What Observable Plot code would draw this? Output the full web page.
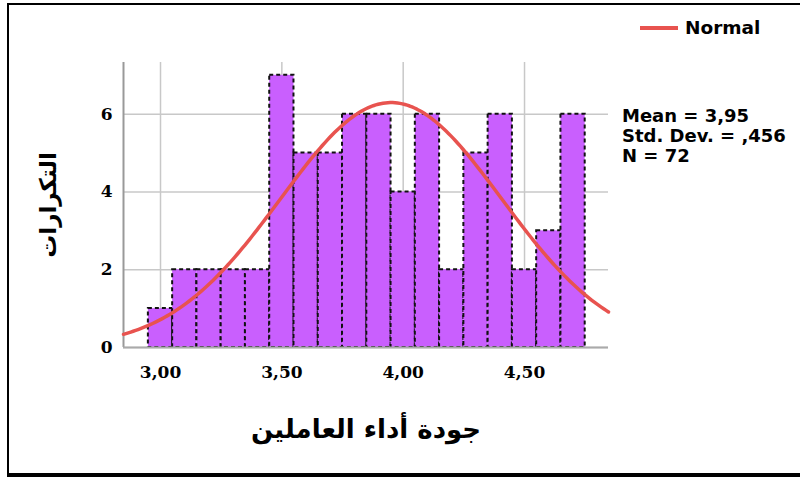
<!DOCTYPE html>
<html>
<head>
<meta charset="utf-8">
<script src="https://cdn.jsdelivr.net/npm/d3@7"></script>
<script src="https://cdn.jsdelivr.net/npm/@observablehq/plot@0.6"></script>
<style>
  body { margin: 0; background: #fff; }
  #wrap { position: relative; width: 800px; height: 477px; overflow: hidden; background: #fff; }
  #frame { position: absolute; left: 7px; top: 3px; width: 800px; height: 474px; box-sizing: border-box;
           border-left: 2px solid #000; border-top: 2px solid #000; border-bottom: 4px solid #000; pointer-events: none; }
  .lbl { position: absolute; font-family: "DejaVu Sans", sans-serif; font-weight: bold; color: #000; white-space: nowrap; }
  #legend { left: 640px; top: 17px; font-size: 18.5px; line-height: 22px; display: flex; align-items: center; }
  #legend span.sw { display: inline-block; width: 38px; height: 4.5px; background: #e8534f; margin-right: 7px; }
  #stats { left: 622px; top: 106px; font-size: 18px; line-height: 20px; }
</style>
</head>
<body>
<div id="wrap">
  <div id="chart"></div>
  <div id="legend" class="lbl"><span class="sw"></span><span>Normal</span></div>
  <div id="stats" class="lbl"></div>
  <div id="frame"></div>
</div>
<script>
// Histogram bins (centers) and frequencies
const binCenters = [3.0, 3.1, 3.2, 3.3, 3.4, 3.5, 3.6, 3.7, 3.8, 3.9, 4.0, 4.1, 4.2, 4.3, 4.4, 4.5, 4.6, 4.7];
const counts     = [1,   2,   2,   2,   2,   7,   5,   5,   6,   6,   4,   6,   2,   5,   6,   2,   3,   6];
const binWidth = 0.1;

// Summary statistics shown on the chart
const statMean = 3.95;
const statSD = 0.456;
const statN = 72;
const statLabels = ["Mean = 3,95", "Std. Dev. = ,456", "N = 72"];

// Axis ticks and titles
const xTicks = [3.0, 3.5, 4.0, 4.5];
const yTicks = [0, 2, 4, 6];
const xTitle = "جودة أداء العاملين";
const yTitle = "التكرارات";
const legendLabel = "Normal";

const xDomain = [2.8475, 4.846];
const yDomain = [0, 7.33];

const bars = binCenters.map((c, i) => ({x1: c - binWidth / 2, x2: c + binWidth / 2, y: counts[i]}));

// Fitted normal curve from the displayed Mean / Std. Dev. / N
const curve = d3.range(0, 201).map(i => {
  const x = xDomain[0] + (xDomain[1] - xDomain[0]) * i / 200;
  const z = (x - statMean) / statSD;
  return {x, y: statN * binWidth / (statSD * Math.sqrt(2 * Math.PI)) * Math.exp(-0.5 * z * z)};
});

const fmt = d => d.toFixed(2).replace(".", ",");

const chart = Plot.plot({
  width: 800,
  height: 477,
  marginLeft: 123,
  marginRight: 192,
  marginTop: 62,
  marginBottom: 130,
  style: {background: "#fff", overflow: "visible"},
  x: {domain: xDomain},
  y: {domain: yDomain},
  marks: [
    Plot.gridX(xTicks, {stroke: "#c8c8c8", strokeOpacity: 1, strokeWidth: 1.5}),
    Plot.gridY(yTicks, {stroke: "#c8c8c8", strokeOpacity: 1, strokeWidth: 1.5}),
    Plot.ruleX([xDomain[0]], {stroke: "#999", strokeWidth: 2}),
    Plot.rectY(bars, {x1: "x1", x2: "x2", y: "y", fill: "#c95ffe", stroke: "#111", strokeWidth: 2, strokeDasharray: "4,3", inset: 0}),
    Plot.ruleY([0], {stroke: "#aaa", strokeWidth: 2}),
    Plot.line(curve, {x: "x", y: "y", stroke: "#e8534f", strokeWidth: 3.5, curve: "linear"}),
    Plot.axisX(xTicks, {tickSize: 0, tickPadding: 18, tickFormat: fmt, label: null,
      fontFamily: "DejaVu Serif", fontWeight: "bold", fontSize: 17, fill: "#000"}),
    Plot.axisY(yTicks, {tickSize: 0, tickPadding: 11, tickFormat: d => String(d), label: null,
      fontFamily: "DejaVu Serif", fontWeight: "bold", fontSize: 17, fill: "#000"}),
    Plot.text([xTitle], {frameAnchor: "bottom", dy: 90, text: d => d, fontFamily: "DejaVu Sans", fontWeight: "bold", fontSize: 26, fill: "#000"}),
    Plot.text([yTitle], {frameAnchor: "left", dx: -75, textAnchor: "middle", rotate: -90, text: d => d, fontFamily: "DejaVu Sans", fontWeight: "bold", fontSize: 23, fill: "#000"})
  ]
});
document.getElementById("chart").appendChild(chart);
document.getElementById("stats").innerHTML = statLabels.map(s => `<div>${s}</div>`).join("");
document.querySelector("#legend span:last-child").textContent = legendLabel;
</script>
</body>
</html>
